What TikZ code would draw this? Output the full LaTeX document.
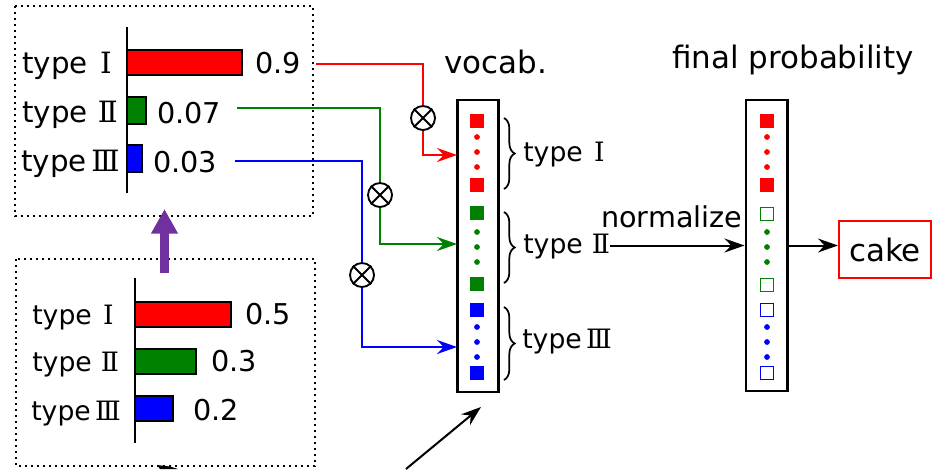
\documentclass[tikz,border=0pt]{standalone}
\usepackage{fontspec}
\setmainfont{DejaVu Sans}
\newfontfamily\rn{DejaVu Serif}
\usetikzlibrary{arrows.meta,decorations.pathreplacing,calc}
\definecolor{gr}{RGB}{0,128,0}
\definecolor{bl}{RGB}{0,0,255}
\definecolor{rd}{RGB}{255,0,0}
\definecolor{pu}{RGB}{112,48,160}
\newcommand\RNa{\kern0.42em{\rn Ⅰ}}
\newcommand\RNb{\kern0.34em{\rn Ⅱ}}
\newcommand\RNc{\kern0.16em{\rn Ⅲ}}
\begin{document}
\begin{tikzpicture}[x=0.75pt,y=-0.75pt,
  dotbox/.style={draw, line width=1.8pt, dash pattern=on 1.6pt off 2.9pt},
  lblA/.style={anchor=base west, inner sep=0, font=\fontsize{22}{26}\selectfont},
  lblB/.style={anchor=base west, inner sep=0, font=\fontsize{20}{24}\selectfont},
  num/.style={anchor=base west, inner sep=0, font=\fontsize{21.5}{25}\selectfont},
  ttl/.style={anchor=base west, inner sep=0, font=\fontsize{23.2}{27}\selectfont},
  bar/.style={draw=black, line width=1.3pt},
  axis/.style={line width=1.5pt},
  vbox/.style={draw, line width=2pt, minimum width=31pt, inner sep=0},
  sq/.style={minimum size=10.8pt, inner sep=0},
  hsq/.style={minimum size=10pt, inner sep=0, draw, line width=1pt},
  dot/.style={circle, inner sep=0, minimum size=4.3pt},
  conn/.style={line width=1.5pt},
  arr/.style={-{Stealth[length=15pt,width=10.5pt,inset=5pt]}},
  otimes/.style={circle, draw, fill=white, minimum size=18pt, inner sep=0, line width=1.4pt},
  brc/.style={decorate, decoration={brace, amplitude=8pt}, line width=1.3pt}
]
\useasboundingbox (0,0) rectangle (932,469);

% ---------- top-left chart ----------
\draw[dotbox] (15,6) rectangle (313,216);
\draw[axis] (127,27) -- (127,193);
\filldraw[bar, fill=rd] (127,50) rectangle (242,75);
\filldraw[bar, fill=gr] (127,97) rectangle (146,124);
\filldraw[bar, fill=bl] (127,145) rectangle (142,172);
\node[lblA] (ta1) at (22,73) {type\RNa};
\node[lblA] (ta2) at (22,122) {type\RNb};
\node[lblA] (ta3) at (21,171) {type\RNc};
\node[num] (na1) at (255,73) {0.9};
\node[num] (na2) at (157,123) {0.07};
\node[num] (na3) at (153,172) {0.03};

% ---------- bottom-left chart ----------
\draw[dotbox] (16,259) rectangle (315,466);
\draw[axis] (135,278) -- (135,443);
\filldraw[bar, fill=rd] (135,302) rectangle (231,327);
\filldraw[bar, fill=gr] (135,349) rectangle (196,374);
\filldraw[bar, fill=bl] (135,396) rectangle (173,421);
\node[lblB] (tb1) at (32,324) {type\RNa};
\node[lblB] (tb2) at (32,371) {type\RNb};
\node[lblB] (tb3) at (31,420) {type\RNc};
\node[num] (nb1) at (245,324) {0.5};
\node[num] (nb2) at (211,371) {0.3};
\node[num] (nb3) at (193,420) {0.2};

% purple arrow between charts
\coordinate (pA) at (164.5,273);
\coordinate (pB) at (164.5,209);
\draw[pu, line width=6.8pt, -{Triangle[length=18.5pt,width=19pt]}] (pA) -- (pB);
% partial mark at the bottom edge
\fill (157,465) -- (170,466.5) -- (178,469) -- (160,469) -- cycle;

% ---------- vocab ----------
\node[ttl] (vtitle) at (444,73) {vocab.};
\node[vbox, minimum height=219pt] (vocab) at (478,246) {};
\foreach \y/\n in {121/a,185/b}{\node[sq, fill=rd] (vr\n) at (477,\y) {};}
\foreach \y/\n in {137/a,152/b,167/c}{\node[dot, fill=rd] (vrd\n) at (477,\y) {};}
\foreach \y/\n in {213/a,284/b}{\node[sq, fill=gr] (vg\n) at (477,\y) {};}
\foreach \y/\n in {232/a,247/b,262/c}{\node[dot, fill=gr] (vgd\n) at (477,\y) {};}
\foreach \y/\n in {310/a,373/b}{\node[sq, fill=bl] (vb\n) at (477,\y) {};}
\foreach \y/\n in {327/a,342/b,357/c}{\node[dot, fill=bl] (vbd\n) at (477,\y) {};}

\draw[brc] (504,118) -- (504,189);
\draw[brc] (504,212) -- (504,283);
\draw[brc] (504,307) -- (504,380);
\node[lblB] (bl1) at (523,161) {type\RNa};
\node[lblB] (bl2) at (523,253) {type\RNb};
\node[lblB] (bl3) at (522,348) {type\RNc};

% ---------- connectors with weights ----------
\coordinate (r0) at (316,64);
\coordinate (g0) at (237,108);
\coordinate (b0) at (235,161);
\coordinate (o1) at (423,118);
\coordinate (o2) at (380,195);
\coordinate (o3) at (362,275);
\coordinate (rE) at (457,155);
\coordinate (gE) at (457,244);
\coordinate (bE) at (457,347);
\draw[conn, rd, arr] (r0) -| (o1) |- (rE);
\draw[conn, gr, arr] (g0) -| (o2) |- (gE);
\draw[conn, bl, arr] (b0) -| (o3) |- (bE);
\foreach \o in {o1,o2,o3}{
  \node[otimes] (x\o) at (\o) {};
  \draw[line width=1.4pt] (x\o.45) -- (x\o.225) (x\o.135) -- (x\o.315);
}

% ---------- final probability ----------
\node[ttl] (ftitle) at (672,68) {final probability};
\node[vbox, minimum height=218.25pt] (final) at (766.5,245.5) {};
\foreach \y/\n in {121/a,185/b}{\node[sq, fill=rd] (fr\n) at (767,\y) {};}
\foreach \y/\n in {137/a,152/b,167/c}{\node[dot, fill=rd] (frd\n) at (767,\y) {};}
\foreach \y/\n in {214/a,285/b}{\node[hsq, draw=gr] (fg\n) at (767,\y) {};}
\foreach \y/\n in {232/a,247/b,262/c}{\node[dot, fill=gr] (fgd\n) at (767,\y) {};}
\foreach \y/\n in {310/a,373/b}{\node[hsq, draw=bl] (fb\n) at (767,\y) {};}
\foreach \y/\n in {327/a,342/b,357/c}{\node[dot, fill=bl] (fbd\n) at (767,\y) {};}

\node[num] (norm) at (601,227) {normalize};
\draw[conn, arr] (bl2.east |- final.west) -- (final.west);

\node[draw=rd, line width=1.6pt, minimum width=69pt, minimum height=42.75pt, inner sep=0,
      font=\fontsize{23.2}{27}\selectfont] (cake) at (885,249.5) {cake};
\draw[conn, arr] (final.east) -- (final.east -| cake.west);

% ---------- diagonal arrow at the bottom ----------
\coordinate (dA) at (406,469);
\coordinate (dB) at (481,407);
\draw[conn, arr] (dA) -- (dB);
\end{tikzpicture}
\end{document}
